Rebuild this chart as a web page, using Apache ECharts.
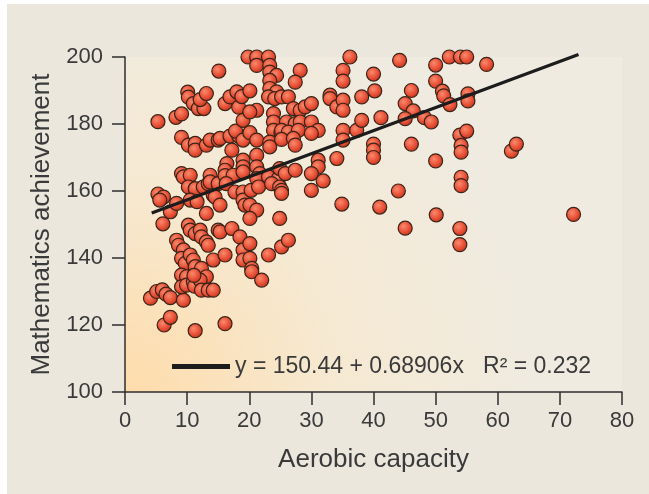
<!DOCTYPE html>
<html>
<head>
<meta charset="utf-8">
<script src="https://cdn.jsdelivr.net/npm/echarts@6/dist/echarts.min.js"></script>
<style>
html, body { margin: 0; padding: 0; background: #fff; }
#panel { position: absolute; left: 7px; top: 4px; width: 642px; height: 490px; background: #ebe7dd; }
#main { position: absolute; left: 0; top: 0; width: 649px; height: 494px; }
</style>
</head>
<body>
<div id="panel"></div>
<div id="main"></div>
<script>
// aerobic capacity (x) vs mathematics achievement (y)
var scores = [
    [4.1, 128.0], [5.1, 130.0], [6.0, 130.5], [6.6, 129.2], [7.3, 128.2], [9.4, 127.4],
    [5.3, 180.7], [5.3, 159.1], [6.2, 158.2], [5.6, 157.3], [6.1, 150.2], [7.3, 153.8], [8.3, 156.3],
    [6.3, 120.0], [7.3, 122.3],
    [8.2, 182.0], [9.1, 183.0], [9.1, 176.0],
    [8.3, 145.3], [8.6, 143.8], [9.4, 142.4], [9.1, 139.9], [9.7, 138.4], [9.1, 134.9], [9.9, 134.4], [9.1, 131.4], [9.9, 131.9],
    [9.1, 165.2], [9.4, 164.2],

    [10.1, 189.5], [10.2, 188.0], [11.0, 186.1], [11.8, 184.6], [12.7, 184.6], [12.1, 187.3], [13.1, 189.1],
    [10.2, 173.7], [11.3, 174.2], [11.3, 172.2], [13.1, 173.7], [13.7, 175.2], [15.0, 175.2],
    [10.5, 164.7], [13.7, 164.7], [10.2, 161.2], [11.3, 160.7], [12.6, 161.2], [13.4, 162.2], [14.2, 158.8], [10.5, 157.3], [11.6, 156.8],
    [10.2, 149.8], [10.5, 148.3], [11.3, 147.3], [12.1, 148.3], [12.3, 146.3], [13.1, 144.8], [13.4, 143.8],
    [10.5, 140.9], [11.0, 139.4], [11.3, 137.4], [12.3, 136.9], [13.1, 134.4], [11.0, 132.9], [11.2, 131.6], [12.1, 133.4],
    [12.3, 130.4], [13.4, 130.4], [14.2, 130.4], [11.1, 134.8],
    [11.3, 118.3], [13.1, 153.3], [14.2, 139.4], [13.7, 162.7], [15.0, 162.2], [14.5, 158.2], [15.3, 155.8], [15.0, 148.3],

    [15.1, 195.8], [16.1, 186.1], [16.9, 188.1], [18.0, 189.6], [18.3, 185.0], [18.8, 188.2],
    [15.3, 175.7], [16.9, 176.4], [17.2, 172.2], [16.4, 168.2], [16.1, 166.2], [16.1, 164.6], [17.4, 164.7], [16.3, 162.2], [17.7, 159.7],
    [15.3, 147.8], [17.2, 148.8], [18.5, 146.3], [16.1, 140.9], [16.1, 120.4],
    [18.3, 176.4], [17.8, 177.9], [19.0, 175.2], [19.0, 169.2], [19.0, 167.2], [19.0, 165.7], [19.0, 159.7], [19.0, 157.3],
    [19.3, 155.8], [19.0, 142.4], [19.0, 139.4], [19.0, 181.1],

    [19.8, 200.0], [21.2, 200.0], [23.1, 200.0], [21.2, 197.5], [23.3, 197.5], [23.3, 195.5], [24.4, 194.5], [23.3, 193.0],
    [23.3, 190.6], [24.4, 189.6], [23.1, 188.1], [24.1, 187.6], [25.2, 188.1], [20.1, 189.9],
    [21.2, 184.1], [20.1, 183.6], [23.9, 183.1], [23.9, 180.6], [23.9, 178.1], [20.1, 177.4],
    [21.2, 175.2], [23.3, 174.6], [23.3, 173.2], [21.2, 170.7], [21.2, 167.2], [21.7, 165.2],
    [20.3, 160.2], [21.2, 163.7], [23.1, 164.2], [24.7, 163.7], [21.5, 161.2], [23.6, 162.2], [24.9, 161.2], [25.2, 160.2], [25.2, 159.3],
    [20.1, 155.8], [21.2, 154.3], [20.1, 151.8], [24.9, 151.8], [20.1, 144.3], [20.1, 139.9], [20.4, 136.9], [20.4, 135.9],
    [23.1, 140.9], [22.0, 133.4], [24.9, 166.7], [25.1, 177.4],

    [26.3, 188.1], [28.2, 196.0], [27.4, 192.5], [27.1, 184.6], [28.2, 184.1], [26.0, 180.6], [27.4, 180.1], [28.2, 180.6],
    [25.2, 178.1], [26.3, 177.6], [27.9, 178.1], [25.2, 175.4], [27.1, 175.7], [27.4, 173.7], [25.8, 165.2], [27.4, 166.2],
    [25.2, 143.3], [26.3, 145.3],
    [29.0, 185.1], [30.0, 186.1], [30.0, 180.6], [31.1, 178.1], [30.0, 177.2], [31.1, 169.2], [31.1, 167.2], [30.0, 165.2],
    [31.9, 163.0], [30.0, 160.2],

    [33.0, 188.6], [33.0, 187.6], [34.1, 185.1], [35.1, 187.1], [35.1, 184.1], [35.1, 196.0], [35.1, 192.8], [36.2, 200.0],
    [34.1, 169.7], [35.1, 178.1], [35.1, 175.2], [37.3, 178.1], [38.1, 181.1], [38.1, 188.1], [34.9, 156.1],
    [40.0, 194.9], [40.2, 189.9], [40.0, 174.0], [40.0, 172.2], [40.0, 170.0], [41.2, 181.9], [41.0, 155.2], [44.0, 160.0], [44.2, 199.0],

    [45.1, 186.1], [46.1, 190.0], [46.4, 183.9], [45.1, 181.6], [46.1, 174.0], [45.1, 148.9], [48.2, 181.9], [49.3, 180.6],
    [50.0, 197.6], [50.0, 192.8], [50.0, 169.0], [50.1, 152.9], [51.1, 189.8], [51.3, 188.4], [52.3, 185.8],
    [52.2, 200.0], [54.0, 200.0], [55.0, 200.0], [53.9, 176.7], [55.0, 177.9], [54.1, 173.6], [54.1, 171.6], [54.1, 164.1],
    [54.1, 161.6], [53.9, 148.8], [53.9, 144.0], [55.2, 189.0], [55.2, 186.9], [58.2, 197.8], [62.2, 171.9], [63.0, 174.0],
    [72.2, 153.0]
]

// fitted line: y = 150.44 + 0.68906x
var fitIntercept = 150.44
var fitSlope = 0.68906
var fitRange = [4.3, 73]
var fitLabel = 'y = 150.44 + 0.68906x   R² = 0.232'

var xTicks = { min: 0, max: 80, step: 10 }
var yTicks = { min: 100, max: 200, step: 20 }

var fitLine = []
for (var i = 0; i < fitRange.length; i++) {
    fitLine.push([fitRange[i], fitIntercept + fitSlope * fitRange[i]])
}

var font = "'Liberation Sans', Arial, sans-serif"
var axisColor = '#2e2e2e'
var textColor = '#3a3a3a'

var myChart = echarts.init(document.getElementById('main'))
myChart.setOption({
    animation: false,
    textStyle: { fontFamily: font },
    grid: {
        left: 125,
        right: 27,
        top: 57,
        bottom: 102,
        show: true,
        borderWidth: 0,
        backgroundColor: {
            type: 'radial', x: 0, y: 1, r: 1.25,
            colorStops: [
                { offset: 0, color: '#fedcab' },
                { offset: 0.5, color: '#f6e9d2' },
                { offset: 1, color: '#efebe1' }
            ]
        }
    },
    legend: {
        data: [fitLabel],
        left: 172,
        top: 355,
        padding: 0,
        icon: 'rect',
        itemWidth: 58,
        itemHeight: 5,
        itemStyle: { color: '#1c1c1c' },
        textStyle: { fontSize: 23, color: textColor, fontFamily: font }
    },
    xAxis: {
        type: 'value',
        min: xTicks.min,
        max: xTicks.max,
        interval: xTicks.step,
        name: 'Aerobic capacity',
        nameLocation: 'middle',
        nameGap: 55,
        nameTextStyle: { fontSize: 26, color: textColor },
        axisLine: { show: true, onZero: false, lineStyle: { color: axisColor, width: 1.5 } },
        axisTick: { show: true, length: 13, lineStyle: { color: axisColor, width: 1.5 } },
        axisLabel: { fontSize: 22, color: textColor, margin: 18 },
        splitLine: { show: false }
    },
    yAxis: {
        type: 'value',
        min: yTicks.min,
        max: yTicks.max,
        interval: yTicks.step,
        name: 'Mathematics achievement',
        nameLocation: 'middle',
        nameGap: 70,
        nameTextStyle: { fontSize: 26, color: textColor },
        axisLine: { show: true, onZero: false, lineStyle: { color: axisColor, width: 1.5 } },
        axisTick: { show: true, length: 13, lineStyle: { color: axisColor, width: 1.5 } },
        axisLabel: { fontSize: 22, color: textColor, margin: 22 },
        splitLine: { show: false }
    },
    series: [{
        name: 'scores',
        type: 'scatter',
        data: scores,
        clip: false,
        symbolSize: 14,
        itemStyle: {
            color: {
                type: 'radial', x: 0.4, y: 0.38, r: 0.6,
                colorStops: [
                    { offset: 0, color: '#f98a6c' },
                    { offset: 0.6, color: '#e9533a' },
                    { offset: 1, color: '#c8381f' }
                ]
            },
            borderColor: '#3a2417',
            borderWidth: 1.2,
            opacity: 1
        }
    }, {
        name: fitLabel,
        type: 'line',
        data: fitLine,
        clip: false,
        symbol: 'none',
        z: 3,
        lineStyle: { color: '#1c1c1c', width: 3.2 }
    }]
})
</script>
</body>
</html>
